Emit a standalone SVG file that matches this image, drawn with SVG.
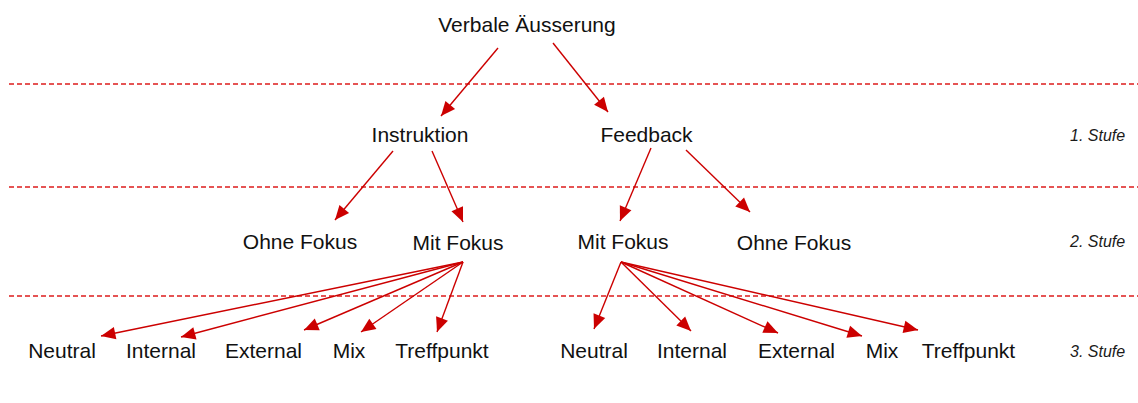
<svg xmlns="http://www.w3.org/2000/svg" width="1138" height="403" viewBox="0 0 1138 403">
<style>
.t{font-family:"Liberation Sans",Arial,sans-serif;font-size:21px;fill:#111;text-anchor:middle}
.s{font-family:"Liberation Sans",Arial,sans-serif;font-size:16px;font-style:italic;fill:#1a1a1a}
.d{stroke:#dd1c1c;stroke-width:1.3;stroke-dasharray:5 3;fill:none}
.c line{stroke:#cc0000;stroke-width:1.4;marker-end:url(#ah)}
</style>
<defs>
<marker id="ah" viewBox="0 0 10 10" refX="10" refY="5" markerWidth="10" markerHeight="9" markerUnits="userSpaceOnUse" orient="auto" overflow="visible">
<path d="M0,0 L10,5 L0,10 z" fill="#cc0000" transform="scale(1.6,1.4)" transform-origin="10 5"/>
</marker>
</defs>
<rect width="1138" height="403" fill="#fff"/>
<g id="separators">
<line class="d" x1="9" y1="84" x2="1138" y2="84"/>
<line class="d" x1="9" y1="187" x2="1138" y2="187"/>
<line class="d" x1="9" y1="296" x2="1138" y2="296"/>
</g>
<g id="n-root"><text class="t" x="527" y="32">Verbale Äusserung</text></g>
<g id="n-instruktion"><text class="t" x="420" y="142">Instruktion</text></g>
<g id="n-feedback"><text class="t" x="646.5" y="142">Feedback</text></g>
<g id="n-i-ohne"><text class="t" x="300" y="249">Ohne Fokus</text></g>
<g id="n-i-mit"><text class="t" x="458" y="250">Mit Fokus</text></g>
<g id="n-f-mit"><text class="t" x="623" y="249">Mit Fokus</text></g>
<g id="n-f-ohne"><text class="t" x="794" y="250">Ohne Fokus</text></g>
<g id="n-i-neutral"><text class="t" x="62" y="358">Neutral</text></g>
<g id="n-i-internal"><text class="t" x="161" y="358">Internal</text></g>
<g id="n-i-external"><text class="t" x="263.5" y="358">External</text></g>
<g id="n-i-mix"><text class="t" x="349" y="358">Mix</text></g>
<g id="n-i-treffpunkt"><text class="t" x="442" y="358">Treffpunkt</text></g>
<g id="n-f-neutral"><text class="t" x="594" y="358">Neutral</text></g>
<g id="n-f-internal"><text class="t" x="692" y="358">Internal</text></g>
<g id="n-f-external"><text class="t" x="796.5" y="358">External</text></g>
<g id="n-f-mix"><text class="t" x="882" y="358">Mix</text></g>
<g id="n-f-treffpunkt"><text class="t" x="968.5" y="358">Treffpunkt</text></g>
<g id="levels">
<text class="s" x="1070" y="141">1. Stufe</text>
<text class="s" x="1070" y="247">2. Stufe</text>
<text class="s" x="1070" y="357">3. Stufe</text>
</g>
<g id="connectors" class="c">
<line x1="498" y1="48" x2="441" y2="116"/>
<line x1="553" y1="43" x2="608" y2="112"/>
<line x1="393" y1="151" x2="335" y2="220"/>
<line x1="432" y1="151" x2="463" y2="222"/>
<line x1="651" y1="148" x2="620" y2="221"/>
<line x1="686" y1="150" x2="750" y2="212"/>
<line x1="463" y1="262" x2="101" y2="336"/>
<line x1="463" y1="262" x2="181" y2="337"/>
<line x1="463" y1="262" x2="304" y2="330"/>
<line x1="463" y1="262" x2="361" y2="332"/>
<line x1="463" y1="262" x2="437" y2="332"/>
<line x1="621" y1="262" x2="594" y2="329"/>
<line x1="621" y1="262" x2="691" y2="331"/>
<line x1="621" y1="262" x2="778" y2="333"/>
<line x1="621" y1="262" x2="862" y2="336"/>
<line x1="621" y1="262" x2="918" y2="330"/>
</g>
</svg>
